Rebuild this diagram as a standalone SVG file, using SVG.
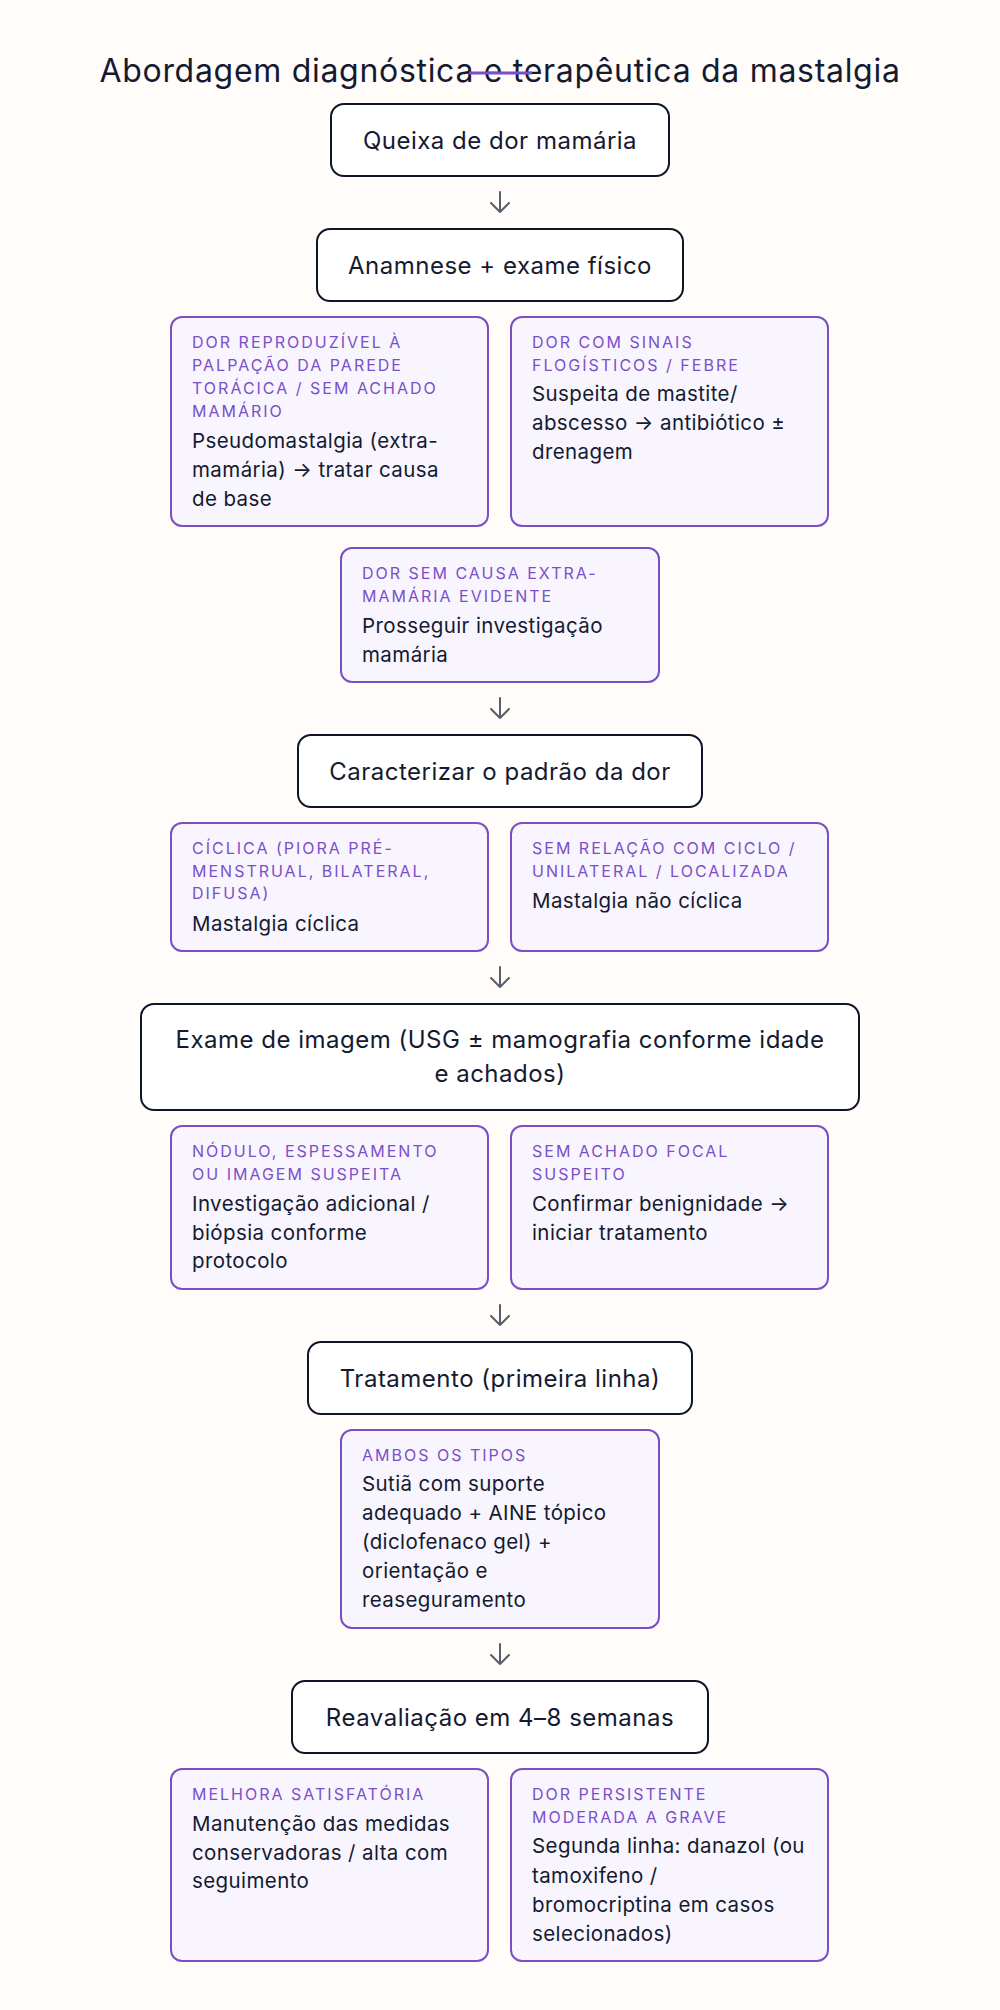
<svg xmlns="http://www.w3.org/2000/svg" width="1000" height="2010" viewBox="0 0 1000 2010">
<style>
.bg{fill:#fffcf9}
.title{font-family:Inter,"Noto Sans",sans-serif;font-size:32px;letter-spacing:0.7px;fill:#141a30;text-anchor:middle}
.node rect{fill:#ffffff;stroke:#0f1529;stroke-width:2}
.node text{font-family:Inter,"Noto Sans",sans-serif;font-size:24px;letter-spacing:0.5px;fill:#141a30;text-anchor:middle}
.card rect{fill:#f8f5fe;stroke:#7b4fc3;stroke-width:2}
.card .lb{font-family:Inter,"Noto Sans",sans-serif;font-size:16px;letter-spacing:2px;fill:#7b4fc9}
.card .bd{font-family:Inter,"Noto Sans",sans-serif;font-size:20.5px;letter-spacing:0.4px;fill:#141a30}
.conn path{fill:none;stroke:#555e6c;stroke-width:2;stroke-linecap:round;stroke-linejoin:round}
</style>
<rect class="bg" x="0" y="0" width="1000" height="2010"/>
<text class="title" x="500" y="82">Abordagem diagnóstica e terapêutica da mastalgia</text>
<line x1="469" y1="73" x2="532" y2="73" stroke="#7b4fc3" stroke-width="3"/>

<g class="node" id="n-queixa"><rect x="331" y="104" width="338" height="72" rx="13"/><text x="500" y="149">Queixa de dor mamária</text></g>
<g class="node" id="n-anamnese"><rect x="317" y="229" width="366" height="72" rx="13"/><text x="500" y="274">Anamnese + exame físico</text></g>

<g class="card" id="c-pseudo"><rect x="171" y="317" width="317" height="209" rx="11"/>
<text class="lb" x="192" y="348">DOR REPRODUZÍVEL À</text>
<text class="lb" x="192" y="371">PALPAÇÃO DA PAREDE</text>
<text class="lb" x="192" y="394">TORÁCICA / SEM ACHADO</text>
<text class="lb" x="192" y="417">MAMÁRIO</text>
<text class="bd" x="192" y="448">Pseudomastalgia (extra-</text>
<text class="bd" x="192" y="477">mamária) → tratar causa</text>
<text class="bd" x="192" y="506">de base</text></g>

<g class="card" id="c-mastite"><rect x="511" y="317" width="317" height="209" rx="11"/>
<text class="lb" x="532" y="348">DOR COM SINAIS</text>
<text class="lb" x="532" y="371">FLOGÍSTICOS / FEBRE</text>
<text class="bd" x="532" y="401">Suspeita de mastite/</text>
<text class="bd" x="532" y="430">abscesso → antibiótico ±</text>
<text class="bd" x="532" y="459">drenagem</text></g>

<g class="card" id="c-semcausa"><rect x="341" y="548" width="318" height="134" rx="11"/>
<text class="lb" x="362" y="579">DOR SEM CAUSA EXTRA-</text>
<text class="lb" x="362" y="602">MAMÁRIA EVIDENTE</text>
<text class="bd" x="362" y="633">Prosseguir investigação</text>
<text class="bd" x="362" y="662">mamária</text></g>

<g class="node" id="n-padrao"><rect x="298" y="735" width="404" height="72" rx="13"/><text x="500" y="780">Caracterizar o padrão da dor</text></g>

<g class="card" id="c-ciclica"><rect x="171" y="823" width="317" height="128" rx="11"/>
<text class="lb" x="192" y="854">CÍCLICA (PIORA PRÉ-</text>
<text class="lb" x="192" y="877">MENSTRUAL, BILATERAL,</text>
<text class="lb" x="192" y="899">DIFUSA)</text>
<text class="bd" x="192" y="931">Mastalgia cíclica</text></g>

<g class="card" id="c-naociclica"><rect x="511" y="823" width="317" height="128" rx="11"/>
<text class="lb" x="532" y="854">SEM RELAÇÃO COM CICLO /</text>
<text class="lb" x="532" y="877">UNILATERAL / LOCALIZADA</text>
<text class="bd" x="532" y="908">Mastalgia não cíclica</text></g>

<g class="node" id="n-imagem"><rect x="141" y="1004" width="718" height="106" rx="13"/>
<text x="500" y="1048">Exame de imagem (USG ± mamografia conforme idade</text>
<text x="500" y="1082">e achados)</text></g>

<g class="card" id="c-nodulo"><rect x="171" y="1126" width="317" height="163" rx="11"/>
<text class="lb" x="192" y="1157">NÓDULO, ESPESSAMENTO</text>
<text class="lb" x="192" y="1180">OU IMAGEM SUSPEITA</text>
<text class="bd" x="192" y="1211">Investigação adicional /</text>
<text class="bd" x="192" y="1240">biópsia conforme</text>
<text class="bd" x="192" y="1268">protocolo</text></g>

<g class="card" id="c-semachado"><rect x="511" y="1126" width="317" height="163" rx="11"/>
<text class="lb" x="532" y="1157">SEM ACHADO FOCAL</text>
<text class="lb" x="532" y="1180">SUSPEITO</text>
<text class="bd" x="532" y="1211">Confirmar benignidade →</text>
<text class="bd" x="532" y="1240">iniciar tratamento</text></g>

<g class="node" id="n-tratamento"><rect x="308" y="1342" width="384" height="72" rx="13"/><text x="500" y="1387">Tratamento (primeira linha)</text></g>

<g class="card" id="c-ambos"><rect x="341" y="1430" width="318" height="198" rx="11"/>
<text class="lb" x="362" y="1461">AMBOS OS TIPOS</text>
<text class="bd" x="362" y="1491">Sutiã com suporte</text>
<text class="bd" x="362" y="1520">adequado + AINE tópico</text>
<text class="bd" x="362" y="1549">(diclofenaco gel) +</text>
<text class="bd" x="362" y="1578">orientação e</text>
<text class="bd" x="362" y="1607">reaseguramento</text></g>

<g class="node" id="n-reavaliacao"><rect x="292" y="1681" width="416" height="72" rx="13"/><text x="500" y="1726">Reavaliação em 4–8 semanas</text></g>

<g class="card" id="c-melhora"><rect x="171" y="1769" width="317" height="192" rx="11"/>
<text class="lb" x="192" y="1800">MELHORA SATISFATÓRIA</text>
<text class="bd" x="192" y="1831">Manutenção das medidas</text>
<text class="bd" x="192" y="1860">conservadoras / alta com</text>
<text class="bd" x="192" y="1888">seguimento</text></g>

<g class="card" id="c-persistente"><rect x="511" y="1769" width="317" height="192" rx="11"/>
<text class="lb" x="532" y="1800">DOR PERSISTENTE</text>
<text class="lb" x="532" y="1823">MODERADA A GRAVE</text>
<text class="bd" x="532" y="1853">Segunda linha: danazol (ou</text>
<text class="bd" x="532" y="1883">tamoxifeno /</text>
<text class="bd" x="532" y="1912">bromocriptina em casos</text>
<text class="bd" x="532" y="1941">selecionados)</text></g>

<g class="conn" id="connectors">
<path d="M500 192V212M491 203L500 212L509 203"/>
<path d="M500 698V718M491 709L500 718L509 709"/>
<path d="M500 967V987M491 978L500 987L509 978"/>
<path d="M500 1305V1325M491 1316L500 1325L509 1316"/>
<path d="M500 1644V1664M491 1655L500 1664L509 1655"/>
</g>
</svg>
